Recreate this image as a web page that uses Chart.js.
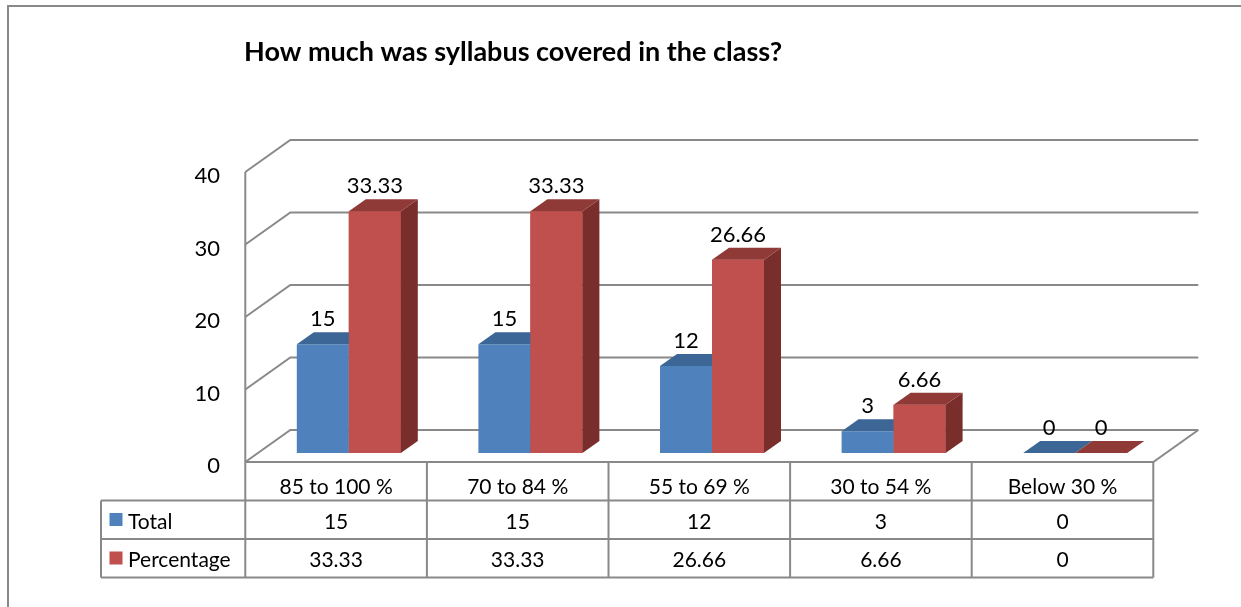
<!DOCTYPE html>
<html><head><meta charset="utf-8">
<script src="https://cdn.jsdelivr.net/npm/chart.js@4"></script>
<style>html,body{margin:0;padding:0;background:#fff;overflow:hidden}canvas{display:block}</style>
</head><body>
<canvas id="c" width="1241" height="607"></canvas>
<script>
const chartTitle = 'How much was syllabus covered in the class?';
const categories = ['85 to 100 %', '70 to 84 %', '55 to 69 %', '30 to 54 %', 'Below 30 %'];
const seriesNames = ['Total', 'Percentage'];
const totalValues = [15, 15, 12, 3, 0];
const percentageValues = [33.33, 33.33, 26.66, 6.66, 0];
const yTicks = [0, 10, 20, 30, 40];

const FONT = '"Lato", "Liberation Sans", sans-serif';
const FRONT = ['#4F81BD', '#C0504D'];
const TOP = ['#3C6696', '#8F3A37'];
const SIDE = ['#385D8A', '#7A2E2C'];
const DX = 17, DY = -12;        // bar depth
const FX = -12.7, FY = 9;       // front plane offset from bar plane
const BX = 32.3, BY = -23;      // back wall offset from bar plane
const LINE = '#898989';

const plugin3d = {
  id: 'threeD',
  beforeDatasetsDraw(chart) {
    const { ctx, chartArea: a, scales: { y } } = chart;
    ctx.save();
    ctx.strokeStyle = LINE;
    ctx.lineWidth = 2;
    // outer frame
    ctx.beginPath(); ctx.moveTo(8, 607); ctx.lineTo(8, 6); ctx.lineTo(1241, 6); ctx.stroke();
    // grid (left wall + back wall)
    yTicks.forEach(v => {
      const p = y.getPixelForValue(v);
      ctx.beginPath();
      ctx.moveTo(a.left + FX, p + FY);
      ctx.lineTo(a.left + BX, p + BY);
      ctx.lineTo(a.right + BX, p + BY);
      ctx.stroke();
    });
    const p0 = y.getPixelForValue(0), pT = y.getPixelForValue(yTicks[yTicks.length - 1]);
    ctx.beginPath(); ctx.moveTo(a.left + FX, p0 + FY); ctx.lineTo(a.left + FX, pT + FY); ctx.stroke();
    // floor front edge and right edge
    ctx.beginPath();
    ctx.moveTo(a.left + FX, p0 + FY); ctx.lineTo(a.right + FX, p0 + FY); ctx.lineTo(a.right + BX, p0 + BY);
    ctx.stroke();
    // y tick labels
    ctx.fillStyle = '#000';
    ctx.font = '22px ' + FONT;
    ctx.textAlign = 'right';
    ctx.textBaseline = 'alphabetic';
    yTicks.forEach(v => {
      ctx.fillText(String(v), 220, y.getPixelForValue(v) + FY + 11);
    });
    // title
    ctx.font = 'bold 27px ' + FONT;
    ctx.textAlign = 'left';
    ctx.fillText(chartTitle, 244, 61);
    ctx.restore();
  },
  afterDatasetsDraw(chart) {
    const { ctx, chartArea: a, scales: { y } } = chart;
    const metas = [chart.getDatasetMeta(0).data, chart.getDatasetMeta(1).data];
    const vals = [totalValues, percentageValues];
    ctx.save();
    for (let i = 0; i < categories.length; i++) {
      for (let k = 0; k < 2; k++) {
        const b = metas[k][i];
        const l = b.x - b.width / 2, r = b.x + b.width / 2, t = b.y, bt = b.base;
        if (k === 1 && bt - t > 0) { ctx.fillStyle = FRONT[1]; ctx.fillRect(l, t, r - l, bt - t); }
        // side
        ctx.fillStyle = SIDE[k];
        ctx.beginPath(); ctx.moveTo(r, t); ctx.lineTo(r + DX, t + DY); ctx.lineTo(r + DX, bt + DY); ctx.lineTo(r, bt); ctx.closePath(); ctx.fill();
        // top
        ctx.fillStyle = TOP[k];
        ctx.beginPath(); ctx.moveTo(l, t); ctx.lineTo(r, t); ctx.lineTo(r + DX, t + DY); ctx.lineTo(l + DX, t + DY); ctx.closePath(); ctx.fill();
      }
    }
    // data labels
    ctx.fillStyle = '#000';
    ctx.font = '22px ' + FONT;
    ctx.textAlign = 'center';
    ctx.textBaseline = 'alphabetic';
    for (let k = 0; k < 2; k++) {
      metas[k].forEach((b, i) => ctx.fillText(String(vals[k][i]), b.x, b.y - 18));
    }
    // data table
    const x0 = a.left + FX, x1 = a.right + FX;
    const catW = (a.right - a.left) / categories.length;
    const top = y.getPixelForValue(0) + FY;
    const rowH = 38.5;
    const leftX = 101;
    ctx.strokeStyle = LINE; ctx.lineWidth = 2;
    ctx.beginPath();
    for (let r = 1; r <= 3; r++) { ctx.moveTo(leftX, top + r * rowH); ctx.lineTo(x1, top + r * rowH); }
    for (let c = 0; c <= categories.length; c++) { ctx.moveTo(x0 + c * catW, top); ctx.lineTo(x0 + c * catW, top + 3 * rowH); }
    ctx.moveTo(leftX, top + rowH); ctx.lineTo(leftX, top + 3 * rowH);
    ctx.stroke();
    ctx.font = '21px ' + FONT;
    ctx.textAlign = 'center';
    categories.forEach((c, i) => ctx.fillText(c, x0 + (i + 0.5) * catW, top + 32));
    vals.forEach((arr, k) => {
      const by = top + rowH * (k + 1) + 28;
      arr.forEach((v, i) => ctx.fillText(String(v), x0 + (i + 0.5) * catW, by));
    });
    ctx.textAlign = 'left';
    seriesNames.forEach((n, k) => {
      const ry = top + rowH * (k + 1);
      ctx.fillStyle = FRONT[k];
      ctx.fillRect(109.5, ry + 12.5, 13, 13);
      ctx.fillStyle = '#000';
      ctx.fillText(n, 128, ry + 28);
    });
    ctx.restore();
  }
};

new Chart(document.getElementById('c'), {
  type: 'bar',
  data: {
    labels: categories,
    datasets: [
      { label: seriesNames[0], data: totalValues, backgroundColor: FRONT[0], borderWidth: 0 },
      { label: seriesNames[1], data: percentageValues, backgroundColor: FRONT[1], borderWidth: 0 }
    ]
  },
  options: {
    responsive: false,
    animation: false,
    devicePixelRatio: 1,
    layout: { padding: { left: 258, right: 75, top: 163, bottom: 154 } },
    datasets: { bar: { barPercentage: 1, categoryPercentage: 0.5727 } },
    plugins: { legend: { display: false }, title: { display: false }, tooltip: { enabled: false } },
    scales: {
      x: { display: false, grid: { display: false } },
      y: { display: false, min: 0, max: 40, grid: { display: false } }
    }
  },
  plugins: [plugin3d]
});
</script>
</body></html>
